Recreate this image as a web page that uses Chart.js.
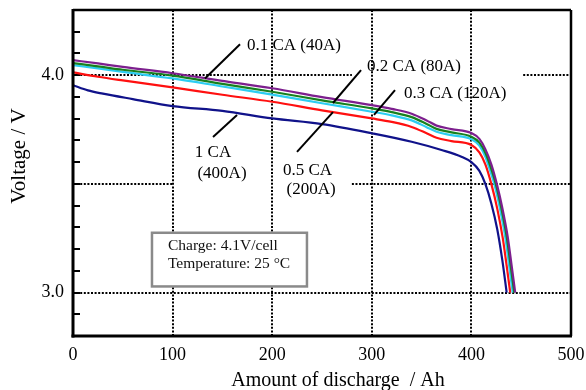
<!DOCTYPE html>
<html>
<head>
<meta charset="utf-8">
<script src="https://cdn.jsdelivr.net/npm/chart.js@4.4.0/dist/chart.umd.min.js"></script>
<style>
  html, body { margin: 0; padding: 0; background: #fff; }
</style>
</head>
<body>
<canvas id="chart" width="586" height="390"></canvas>
<script>
// Discharge curves: amount of discharge (Ah) against cell voltage (V)
const capacity01 = [0, 25, 50, 100, 150, 200, 250, 300, 320, 340, 355, 365, 380, 400, 408, 414, 420, 425.5, 431, 436.5, 440.5, 444];
const voltage01  = [4.069, 4.054, 4.038, 4.009, 3.974, 3.940, 3.899, 3.862, 3.845, 3.823, 3.792, 3.768, 3.752, 3.734, 3.707, 3.660, 3.590, 3.50, 3.39, 3.255, 3.12, 3.0];

const capacity02 = [0, 25, 50, 100, 150, 200, 250, 300, 320, 340, 355, 365, 380, 400, 408, 414, 419.5, 424.5, 430, 435.5, 439.5, 443];
const voltage02  = [4.056, 4.041, 4.025, 3.998, 3.960, 3.924, 3.884, 3.847, 3.830, 3.807, 3.776, 3.753, 3.737, 3.717, 3.690, 3.643, 3.575, 3.50, 3.39, 3.255, 3.12, 3.0];

const capacity03 = [0, 25, 50, 100, 150, 200, 250, 300, 320, 340, 355, 365, 380, 400, 408, 414, 418.5, 423, 428.5, 434, 438, 441.5];
const voltage03  = [4.046, 4.031, 4.015, 3.985, 3.948, 3.911, 3.871, 3.832, 3.815, 3.792, 3.761, 3.740, 3.724, 3.705, 3.676, 3.625, 3.565, 3.50, 3.39, 3.255, 3.12, 3.0];

const capacity05 = [0, 25, 50, 100, 150, 200, 250, 300, 320, 340, 355, 365, 380, 400, 408, 414, 420, 426, 431.5, 435.5, 439];
const voltage05  = [4.013, 3.993, 3.976, 3.944, 3.910, 3.878, 3.838, 3.801, 3.785, 3.762, 3.733, 3.712, 3.697, 3.679, 3.645, 3.590, 3.50, 3.385, 3.25, 3.12, 3.0];

const capacity10 = [0, 15, 30, 60, 100, 150, 200, 250, 300, 340, 370, 390, 400, 408, 414, 420, 426, 431, 435.4];
const voltage10  = [3.954, 3.930, 3.915, 3.890, 3.858, 3.836, 3.801, 3.775, 3.733, 3.694, 3.656, 3.625, 3.600, 3.560, 3.50, 3.41, 3.29, 3.15, 3.0];

const seriesNames = ['0.1 CA (40A)', '0.2 CA (80A)', '0.3 CA (120A)', '0.5 CA (200A)', '1 CA (400A)'];
const seriesColors = ['#7d1f8e', '#17801f', '#2ccdf2', '#ff1010', '#10128a'];

const xTicks = [0, 100, 200, 300, 400, 500];
const yLabelValues = [3.0, 3.5, 4.0];

const serif = '"Liberation Serif", "Times New Roman", serif';

// dotted grid: horizontal runs are broken where the curve labels sit
const hGrid = [
  { v: 4.0, spans: [[0, 280], [452, 500]] },
  { v: 3.5, spans: [[0, 100], [280, 500]] },
  { v: 3.0, spans: [[0, 500]] }
];
const vGrid = [100, 200, 300, 400];

// curve labels and their leader lines, in data units
const notes = [
  { text: '0.1 CA (40A)', x: 174.7, y: 4.138, align: 'left' },
  { text: '0.2 CA (80A)', x: 295.2, y: 4.039, align: 'left' },
  { text: '0.3 CA (120A)', x: 332.3, y: 3.917, align: 'left' },
  { text: '0.5 CA', x: 235.5, y: 3.560, align: 'center' },
  { text: '(200A)', x: 239, y: 3.472, align: 'center' },
  { text: '1 CA', x: 140.6, y: 3.642, align: 'center' },
  { text: '(400A)', x: 149.6, y: 3.546, align: 'center' }
];
const leaders = [
  [167.7, 4.142, 132.5, 3.985],
  [289.2, 4.023, 261, 3.872],
  [323.3, 3.931, 302.2, 3.817],
  [224.9, 3.647, 261, 3.830],
  [140.6, 3.716, 164.7, 3.817]
];
const conditionBox = { x0: 79.3, x1: 234.9, y0: 3.275, y1: 3.028 };
const conditionText = ['Charge: 4.1V/cell', 'Temperature: 25 \u00B0C'];

function seg(ctx, x1, y1, x2, y2) {
  ctx.beginPath();
  ctx.moveTo(x1, y1);
  ctx.lineTo(x2, y2);
  ctx.stroke();
}

const decorations = {
  id: 'decorations',
  beforeDatasetsDraw(chart) {
    const { ctx, chartArea: a, scales: { x, y } } = chart;
    ctx.save();
    ctx.strokeStyle = '#000';
    ctx.lineWidth = 2;
    ctx.setLineDash([2, 1.6]);
    vGrid.forEach(v => {
      const px = Math.round(x.getPixelForValue(v));
      seg(ctx, px, a.top, px, a.bottom);
    });
    hGrid.forEach(g => {
      const py = Math.round(y.getPixelForValue(g.v));
      g.spans.forEach(([from, to]) => seg(ctx, x.getPixelForValue(from), py, x.getPixelForValue(to), py));
    });
    ctx.setLineDash([]);
    // inward minor ticks every 0.1 V
    for (let k = 1; k < 15; k++) {
      const py = Math.round(y.getPixelForValue(2.8 + k * 0.1));
      seg(ctx, a.left, py, a.left + 7, py);
    }
    ctx.restore();
  },
  afterDatasetsDraw(chart) {
    const { ctx, chartArea: a, scales: { x, y } } = chart;
    ctx.save();
    ctx.strokeStyle = '#000';

    // frame
    ctx.lineWidth = 3;
    seg(ctx, a.left, a.top - 1, a.left, a.bottom + 1.5);
    seg(ctx, a.left - 1.5, a.bottom, a.right + 1, a.bottom);
    ctx.lineWidth = 2.5;
    seg(ctx, a.left, a.top, a.right, a.top);
    seg(ctx, a.right, a.top, a.right, a.bottom);

    // leader lines
    ctx.lineWidth = 2;
    leaders.forEach(([x1, y1, x2, y2]) => seg(ctx,
      x.getPixelForValue(x1), y.getPixelForValue(y1),
      x.getPixelForValue(x2), y.getPixelForValue(y2)));

    // curve labels
    ctx.fillStyle = '#000';
    ctx.font = '17px ' + serif;
    ctx.textBaseline = 'middle';
    notes.forEach(n => {
      ctx.textAlign = n.align;
      ctx.fillText(n.text, x.getPixelForValue(n.x), y.getPixelForValue(n.y));
    });

    // test conditions box
    const bx = x.getPixelForValue(conditionBox.x0);
    const by = y.getPixelForValue(conditionBox.y0);
    const bw = x.getPixelForValue(conditionBox.x1) - bx;
    const bh = y.getPixelForValue(conditionBox.y1) - by;
    ctx.fillStyle = '#fff';
    ctx.fillRect(bx, by, bw, bh);
    ctx.strokeStyle = '#8a8a8a';
    ctx.lineWidth = 2.5;
    ctx.strokeRect(bx, by, bw, bh);
    ctx.fillStyle = '#111';
    ctx.font = '15.5px ' + serif;
    ctx.textAlign = 'left';
    ctx.fillText(conditionText[0], bx + 16, by + 13);
    ctx.fillText(conditionText[1], bx + 16, by + 31);

    // axis titles
    ctx.fillStyle = '#000';
    ctx.font = '20px ' + serif;
    ctx.textAlign = 'center';
    ctx.textBaseline = 'alphabetic';
    ctx.fillText('Amount of discharge  / Ah', 338, 386);
    ctx.translate(25, 156);
    ctx.rotate(-Math.PI / 2);
    ctx.font = '21px ' + serif;
    ctx.fillText('Voltage / V', 0, 0);
    ctx.restore();
  }
};

const series = [
  [capacity01, voltage01],
  [capacity02, voltage02],
  [capacity03, voltage03],
  [capacity05, voltage05],
  [capacity10, voltage10]
];

const datasets = series.map(([xs, ys], i) => ({
  label: seriesNames[i],
  data: xs.map((c, j) => ({ x: c, y: ys[j] })),
  borderColor: seriesColors[i],
  borderWidth: 2.2,
  pointRadius: 0,
  fill: false,
  cubicInterpolationMode: 'monotone'
}));

new Chart(document.getElementById('chart').getContext('2d'), {
  type: 'line',
  data: { datasets: datasets },
  options: {
    responsive: false,
    animation: false,
    layout: { padding: { top: 10, right: 15, bottom: 0, left: 0 } },
    plugins: { legend: { display: false }, tooltip: { enabled: false } },
    scales: {
      x: {
        type: 'linear',
        min: 0,
        max: 500,
        afterFit(scale) {
          scale.height = 54;
          scale.paddingLeft = 0;
          scale.paddingRight = 0;
        },
        afterBuildTicks(scale) { scale.ticks = xTicks.map(v => ({ value: v })); },
        grid: { display: false, drawTicks: false },
        border: { display: false },
        ticks: { color: '#000', padding: 8, font: { family: serif, size: 18 }, maxRotation: 0 }
      },
      y: {
        type: 'linear',
        min: 2.8,
        max: 4.3,
        afterFit(scale) {
          scale.width = 73;
          scale.paddingTop = 0;
          scale.paddingBottom = 0;
        },
        grid: { display: false, drawTicks: false },
        border: { display: false },
        ticks: {
          stepSize: 0.1,
          color: '#000',
          padding: 9,
          font: { family: serif, size: 18 },
          callback(v) {
            return yLabelValues.some(t => Math.abs(t - v) < 1e-6) ? v.toFixed(1) : '';
          }
        }
      }
    }
  },
  plugins: [decorations]
});
</script>
</body>
</html>
